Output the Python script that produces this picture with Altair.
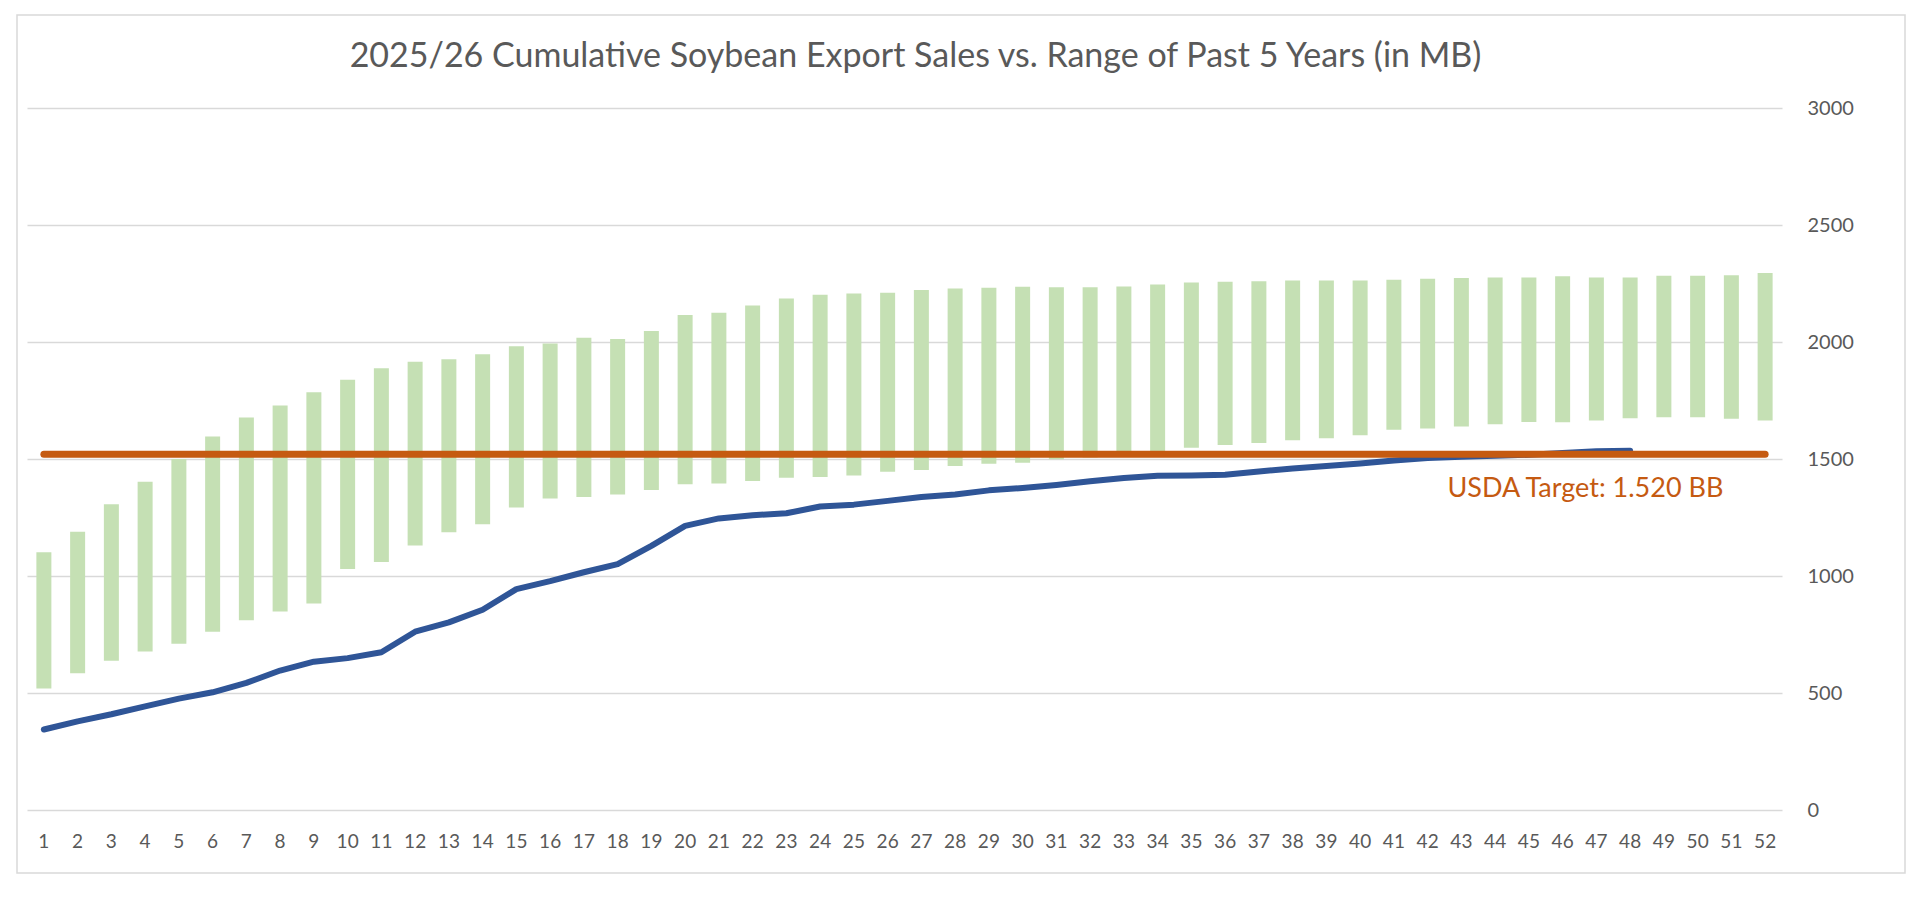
#==========
# import
#==========
import altair as alt
import pandas as pd

#==========
# データ
#==========
weeks = list(range(1, 53))

# 過去5年のレンジ（下端・上端）
range_low = [519, 584, 638, 677, 711, 762, 811, 848, 883, 1030,
             1060, 1130, 1187, 1221, 1293, 1331, 1338, 1348, 1368, 1392,
             1395, 1406, 1420, 1423, 1430, 1445, 1453, 1470, 1480, 1484,
             1499, 1506, 1515, 1524, 1548, 1560, 1568, 1580, 1589, 1602,
             1625, 1630, 1639, 1648, 1658, 1657, 1664, 1674, 1678, 1678,
             1672, 1665]
range_high = [1101, 1189, 1307, 1403, 1500, 1596, 1677, 1729, 1785, 1839,
              1888, 1916, 1926, 1948, 1982, 1994, 2018, 2013, 2047, 2115,
              2125, 2156, 2186, 2202, 2207, 2210, 2222, 2229, 2232, 2236,
              2234, 2234, 2237, 2246, 2254, 2257, 2260, 2263, 2263, 2263,
              2266, 2270, 2273, 2276, 2276, 2281, 2276, 2276, 2283, 2283,
              2285, 2295]

# 2025/26 累積輸出成約（48週目まで）
sales_2526 = [344, 379, 409, 443, 476, 503, 543, 596, 634, 649,
              674, 762, 802, 856, 944, 978, 1016, 1051, 1129, 1214,
              1246, 1260, 1268, 1297, 1305, 1321, 1338, 1348, 1366, 1376,
              1389, 1405, 1419, 1428, 1430, 1433, 1447, 1459, 1470, 1481,
              1494, 1504, 1510, 1514, 1518, 1526, 1533, 1535]

usda_target = 1520
target_label = "USDA Target: 1.520 BB"
y_ticks = [0, 500, 1000, 1500, 2000, 2500, 3000]

title_text = "2025/26 Cumulative Soybean Export Sales vs. Range of Past 5 Years (in MB)"

bars_df = pd.DataFrame({"week": weeks, "low": range_low, "high": range_high})
sales_df = pd.DataFrame({"week": weeks[:len(sales_2526)], "sales": sales_2526})
target_df = pd.DataFrame({"week": weeks, "target": [usda_target] * len(weeks)})
label_df = pd.DataFrame({"week": [51], "target": [usda_target], "text": [target_label]})

#==========
# 軸・スケール
#==========
W, H = 1755, 702
gray = "#595959"

x_enc = alt.X("week:O", title=None,
              scale=alt.Scale(domain=weeks, paddingInner=0, paddingOuter=0),
              axis=alt.Axis(labelAngle=0, labelPadding=22, labelFont="Lato",
                            labelFontSize=19, labelColor=gray))
y_scale = alt.Scale(domain=[0, 3000])
y_axis = alt.Axis(orient="right", values=y_ticks, format="d", labelPadding=25,
                  labelFont="Lato", labelFontSize=20, labelColor=gray, grid=True,
                  gridColor="#d9d9d9", gridWidth=1.5)

#===== レンジ棒 =====
bars = alt.Chart(bars_df).mark_bar(color="#c5e0b4", width=15).encode(
  x=x_enc
  , y=alt.Y("low:Q", scale=y_scale, axis=y_axis, title=None)
  , y2="high:Q"
)

#===== 今年の線 =====
sales_line = alt.Chart(sales_df).mark_line(
  color="#2f5597", strokeWidth=6, strokeCap="round", strokeJoin="round"
).encode(
  x=x_enc
  , y=alt.Y("sales:Q", scale=y_scale, axis=y_axis, title=None)
)

#===== USDA目標 =====
target_line = alt.Chart(target_df).mark_line(
  color="#c55a11", strokeWidth=7, strokeCap="round"
).encode(
  x=x_enc
  , y=alt.Y("target:Q", scale=y_scale, axis=y_axis, title=None)
)

target_text = alt.Chart(label_df).mark_text(
  align="right", baseline="alphabetic", dx=-8, dy=43,
  font="Lato", fontSize=27, color="#c55a11"
).encode(
  x=x_enc
  , y=alt.Y("target:Q", scale=y_scale, axis=y_axis, title=None)
  , text="text:N"
)

#===== 外枠 =====
frame = alt.Chart(pd.DataFrame({"a": [0]})).mark_rect(
  fill="transparent", stroke="#d9d9d9", strokeWidth=1.5
).encode(
  x=alt.value(-10), x2=alt.value(W + 123), y=alt.value(-93), y2=alt.value(H + 63)
)

# 外枠もboundsに入るので、タイトルのoffsetは負にして内側へ戻す
chart = alt.layer(frame, bars, sales_line, target_line, target_text).properties(
  width=W, height=H,
  title=alt.TitleParams(text=title_text, font="Lato", fontSize=34, fontWeight="normal",
                        color=gray, anchor="middle", frame="group", offset=-87,
                        baseline="alphabetic", dx=11),
  autosize=alt.AutoSizeParams(type="none"),
  padding={"left": 19, "top": 100, "right": 130, "bottom": 75}
).configure(background="white").configure_axis(
  domain=False, ticks=False
).configure_view(strokeWidth=0)

chart.save("out.html", embed_options={"renderer": "svg", "actions": False})
